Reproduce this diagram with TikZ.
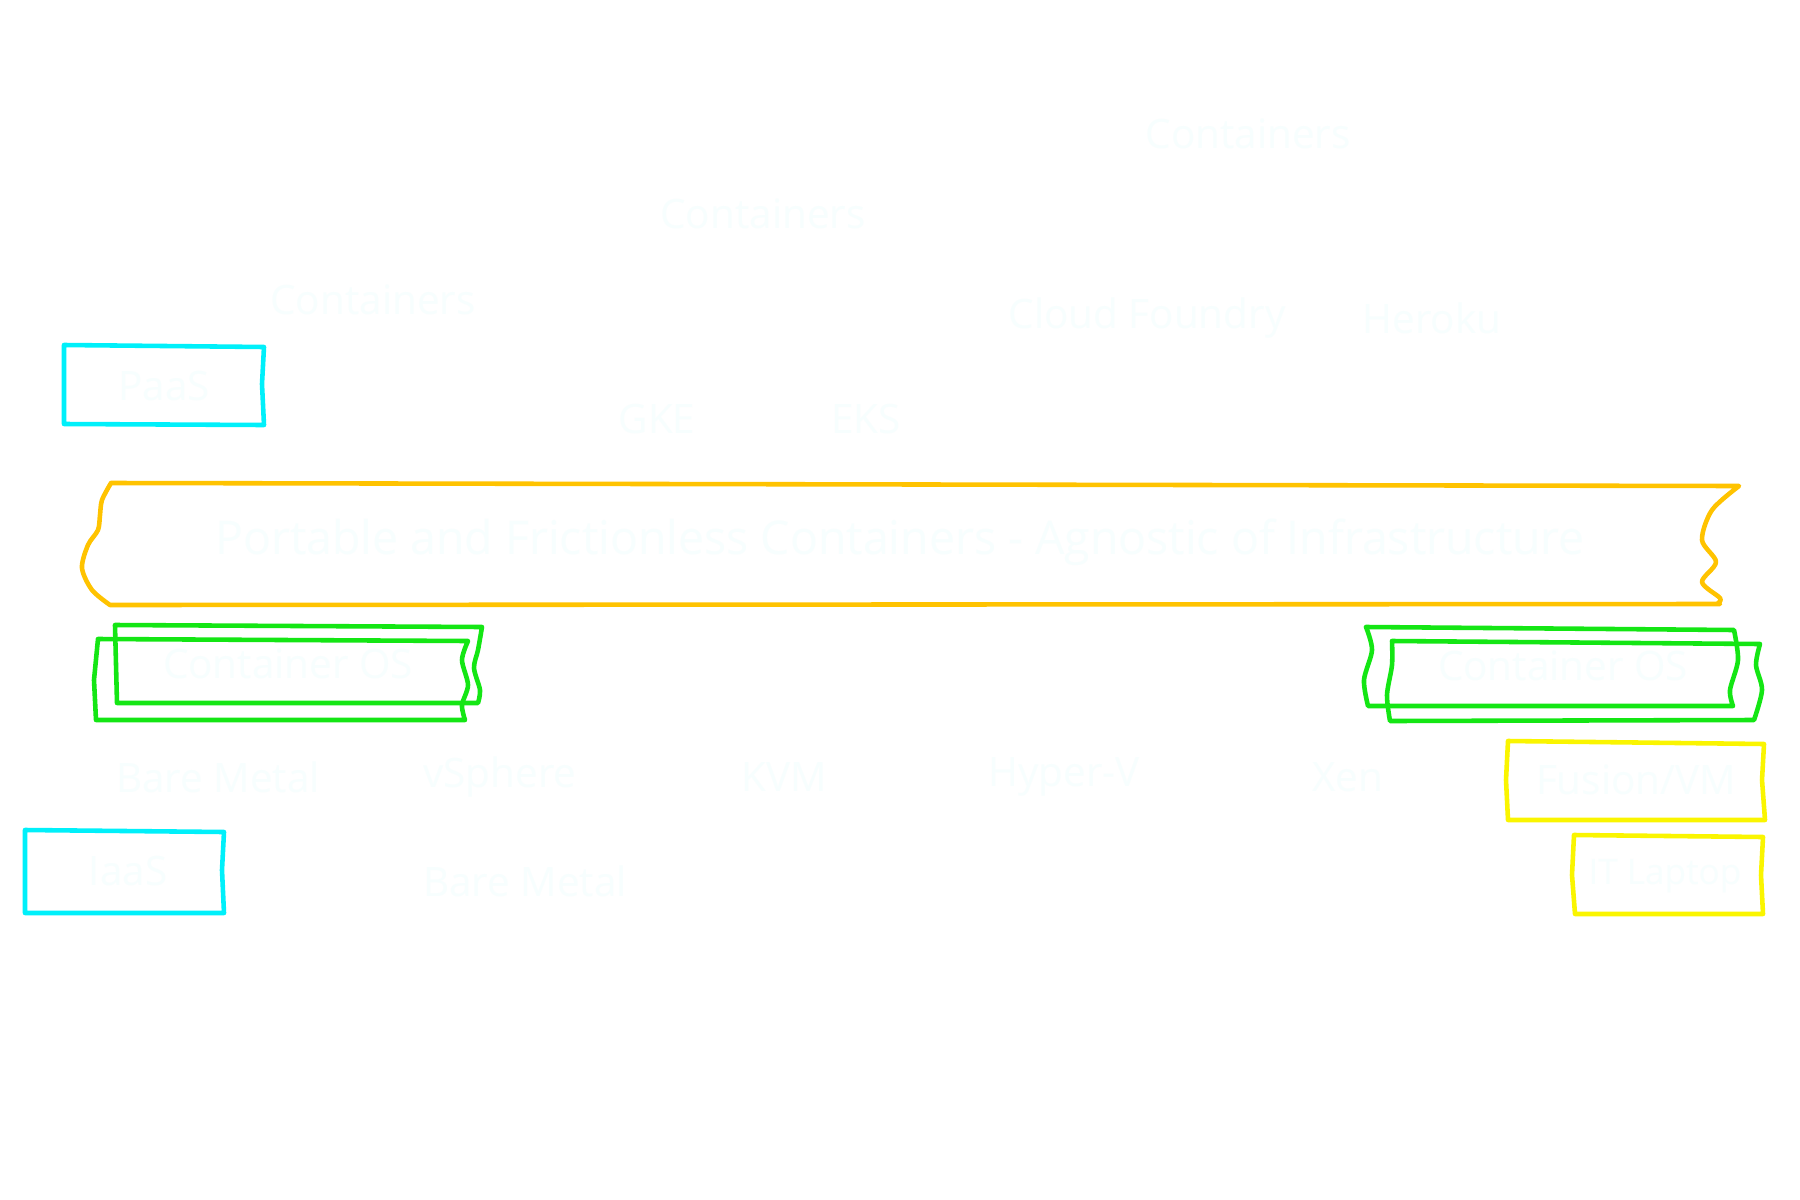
\documentclass[tikz,border=0pt]{standalone}
\usepackage{fontspec}
\setmainfont{Open Sans}
\definecolor{txt}{RGB}{247,254,254}
\definecolor{cyanb}{RGB}{0,240,250}
\definecolor{greenb}{RGB}{20,230,20}
\definecolor{orangeb}{RGB}{255,195,0}
\definecolor{yellowb}{RGB}{250,245,0}
\tikzset{
  lbl/.style={text=txt, font=\fontsize{11.5}{13}\selectfont, inner sep=0pt},
  banner/.style={text=txt, font=\fontsize{13.2}{15}\selectfont, inner sep=0pt},
  edge/.style={line width=1.3pt, line join=round, line cap=round},
  cbox/.style={edge, draw=cyanb},
  ybox/.style={edge, draw=yellowb},
  gbox/.style={edge, draw=greenb},
  obox/.style={edge, draw=orangeb}
}
\begin{document}
\begin{tikzpicture}[x=0.01cm,y=-0.01cm]
\useasboundingbox (0,0) rectangle (1800,1200);
\fill[white] (0,0) rectangle (1800,1200);

% top texts
\node[lbl] (c1) at (1248,134) {Containers};
\node[lbl] (c2) at (763,214) {Containers};
\node[lbl] (c3) at (373,300) {Containers};
\node[lbl] (cf) at (1147,318) {Cloud Foundry};
\node[lbl] (hk) at (1432,318) {Heroku};

% PaaS
\draw[cbox] (64,345) -- (264,347) -- (262,384) -- (264,425) -- (64,424) -- cycle;
\node[lbl] (paas) at (164,386) {PaaS};

\node[lbl] (gke) at (657,419) {GKE};
\node[lbl] (eks) at (866,419) {EKS};

% banner (tape shape)
\draw[obox] (111,483) -- (1739,486)
  -- plot[smooth] coordinates {(1739,486) (1712,510) (1702,540) (1716,562) (1702,582) (1720,598) (1718,603)}
  -- (1720,604) -- (110,605)
  -- plot[smooth] coordinates {(110,605) (92,590) (82,568) (88,545) (98,530) (100,515) (102,500) (111,483)};
\node[banner] (ban) at (900,542) {Portable and Frictionless Containers - Agnostic of Infrastructure};

% Container OS left (double boxes)
\draw[gbox] (115,625) -- (482,627)
  -- plot[smooth] coordinates {(482,627) (478,650) (474,668) (480,690) (478,703)}
  -- (117,703) -- cycle;
\draw[gbox] (98,639) -- (468,641)
  -- plot[smooth] coordinates {(468,641) (462,660) (468,685) (462,705) (465,720)}
  -- (96,720) -- (94,680) -- cycle;
\node[lbl] (osl) at (288,664) {Container OS};

% Container OS right (double boxes)
\draw[gbox] (1366,627) -- (1734,630)
  -- plot[smooth] coordinates {(1734,630) (1738,660) (1730,690) (1733,706)}
  -- (1368,706)
  -- plot[smooth] coordinates {(1368,706) (1364,680) (1372,650) (1366,627)};
\draw[gbox] (1392,641) -- (1760,644)
  -- plot[smooth] coordinates {(1760,644) (1756,665) (1762,690) (1754,720)}
  -- (1390,721)
  -- plot[smooth] coordinates {(1390,721) (1387,695) (1392,665) (1392,641)};
\node[lbl] (osr) at (1563,666) {Container OS};

% bottom row
\node[lbl] (bm1) at (218,777) {Bare Metal};
\node[lbl] (vs) at (500,777) {vSphere};
\node[lbl] (kvm) at (784,777) {KVM};
\node[lbl] (hv) at (1064,777) {Hyper-V};
\node[lbl] (xen) at (1348,777) {Xen};
\draw[ybox] (1508,741) -- (1764,744) -- (1762,780) -- (1765,820) -- (1508,820) -- (1506,780) -- cycle;
\node[lbl] (fus) at (1636,780) {Fusion/VM};

\draw[cbox] (25,830) -- (224,832) -- (222,870) -- (224,913) -- (25,913) -- cycle;
\node[lbl] (iaas) at (128,871) {IaaS};
\node[lbl] (bm2) at (525,881) {Bare Metal};

\draw[ybox] (1574,835) -- (1763,837) -- (1761,875) -- (1763,914) -- (1575,914) -- (1572,875) -- cycle;
\node[lbl, font=\fontsize{10}{12}\selectfont] (lap) at (1665,876) {IT Laptop};
\end{tikzpicture}
\end{document}
